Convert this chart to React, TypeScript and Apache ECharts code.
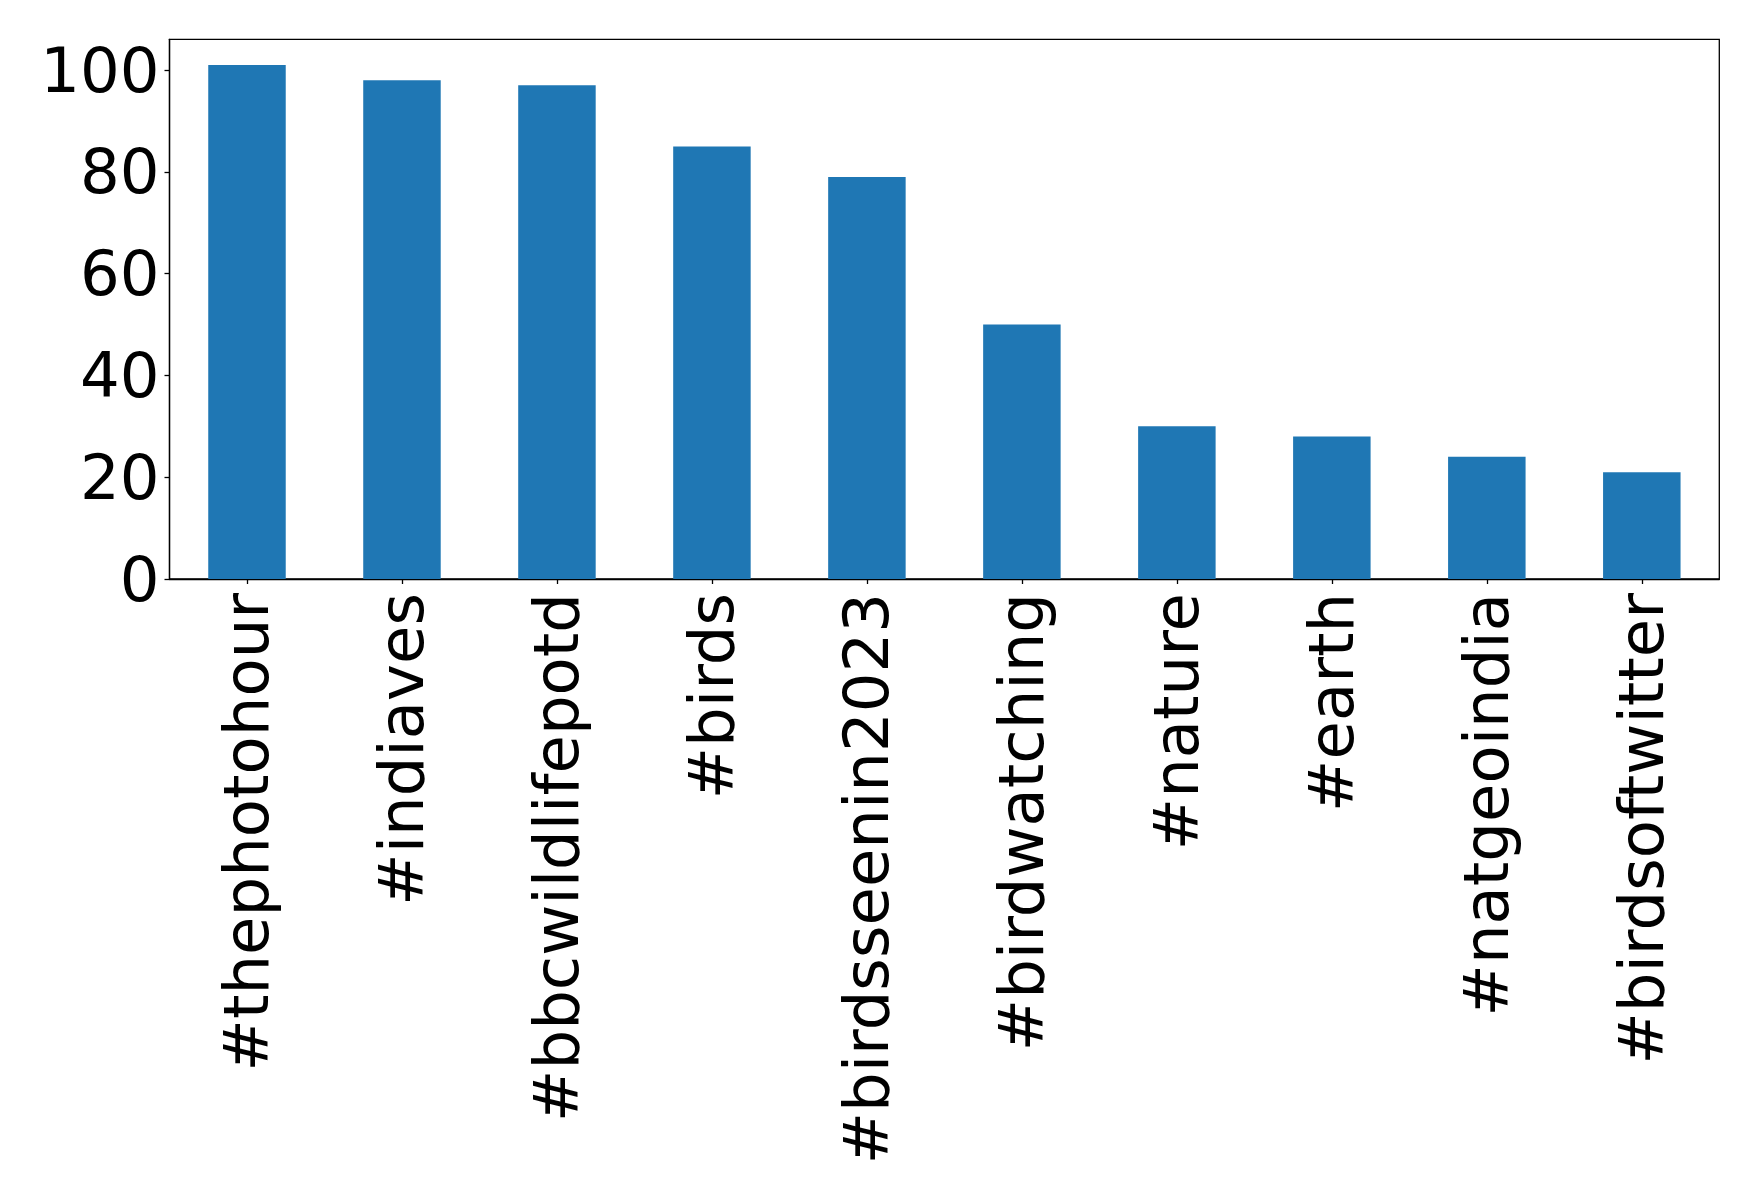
import React, { useEffect, useRef } from "react";
import * as echarts from "echarts";

const categories = [
  "#thephotohour",
  "#indiaves",
  "#bbcwildlifepotd",
  "#birds",
  "#birdsseenin2023",
  "#birdwatching",
  "#nature",
  "#earth",
  "#natgeoindia",
  "#birdsoftwitter",
];
const values = [101, 98, 97, 85, 79, 50, 30, 28, 24, 21];
const yTicks = [0, 20, 40, 60, 80, 100];

export default function App() {
  const ref = useRef<HTMLDivElement>(null);
  useEffect(() => {
    if (!ref.current) return;
    const chart = echarts.init(ref.current, undefined, { renderer: "svg" });
    const font = "DejaVu Sans";
    const yMax = Math.max(...values) * 1.05;
    chart.setOption({
      animation: false,
      backgroundColor: "#ffffff",
      grid: {
        left: 169.5,
        top: 39.3,
        right: 38.7,
        bottom: 620,
        show: true,
        borderColor: "#000000",
        borderWidth: 1.3,
        backgroundColor: "transparent",
      },
      xAxis: {
        type: "category",
        data: categories,
        boundaryGap: true,
        axisLine: { show: true, lineStyle: { color: "#000", width: 1.3 } },
        axisTick: { show: true, alignWithLabel: true, length: 5, lineStyle: { color: "#000", width: 1.3 } },
        axisLabel: {
          rotate: 90,
          interval: 0,
          margin: 14,
          fontFamily: font,
          fontSize: 62.5,
          color: "#000",
        },
        splitLine: { show: false },
      },
      yAxis: {
        type: "value",
        min: 0,
        max: yMax,
        axisLine: { show: true, lineStyle: { color: "#000", width: 1.3 } },
        axisTick: { show: true, length: 5, customValues: yTicks, lineStyle: { color: "#000", width: 1.3 } },
        axisLabel: {
          customValues: yTicks,
          margin: 10,
          fontFamily: font,
          fontSize: 62.5,
          color: "#000",
        },
        splitLine: { show: false },
      },
      series: [
        {
          type: "bar",
          data: values,
          barWidth: "50%",
          itemStyle: { color: "#1f77b4" },
        },
      ],
    });
    return () => chart.dispose();
  }, []);
  return (
    <div
      ref={ref}
      style={{ position: "absolute", left: 0, top: 0, width: 1758, height: 1199 }}
    />
  );
}
